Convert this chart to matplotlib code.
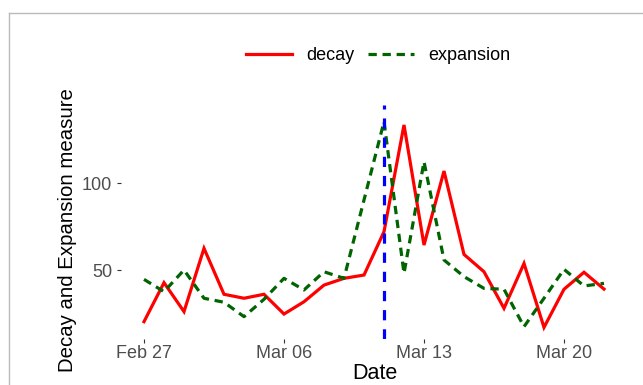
"""Decay vs expansion measure over time, with the event date marked."""

import matplotlib

matplotlib.use("Agg")

import matplotlib.pyplot as plt  # noqa: E402
import matplotlib.dates as mdates  # noqa: E402
import pandas as pd  # noqa: E402
from matplotlib.lines import Line2D  # noqa: E402

plt.rcParams["font.family"] = ["Liberation Sans", "DejaVu Sans"]

dates = pd.date_range("2021-02-27", "2021-03-22", freq="D")
decay = [20.2, 42.7, 26.0, 62.5, 36.0, 33.7, 36.0, 24.6, 31.7, 41.3, 45.2, 47.1,
         72.1, 133.7, 64.4, 107.1, 59.0, 49.0, 27.9, 53.8, 16.9, 38.9, 48.7, 39.0]
expansion = [44.6, 37.5, 50.0, 33.7, 31.4, 23.1, 33.1, 45.2, 38.5, 49.0, 45.2, 90.4,
             135.6, 48.1, 112.5, 55.8, 46.2, 39.4, 38.9, 17.3, 33.7, 50.4, 40.8, 42.3]
event_date = pd.Timestamp("2021-03-11")
tick_dates = pd.to_datetime(["2021-02-27", "2021-03-06", "2021-03-13", "2021-03-20"])
y_ticks = [50, 100]

W, H = 643, 385
fig = plt.figure(figsize=(W / 100, H / 100), dpi=100)

# light frame around the screenshot (top and left edges)
fig.add_artist(Line2D([9 / W, 1], [1 - 13 / H, 1 - 13 / H], color="#BBBBBB", lw=1))
fig.add_artist(Line2D([9 / W, 9 / W], [0, 1 - 13 / H], color="#BBBBBB", lw=1))

ax = fig.add_axes([121 / W, 46 / H, (627 - 121) / W, (339 - 105) / H])
ax.plot(dates, decay, color="#FF0000", lw=2.3, solid_joinstyle="miter", label="decay")
ax.plot(dates, expansion, color="#006400", lw=2.3, dashes=(2.6, 1.8), label="expansion")
ax.axvline(event_date, color="#0000FF", lw=2.3, dashes=(3.2, 2.8))

ax.set_xlim(dates[0] - pd.Timedelta(days=1.15), dates[-1] + pd.Timedelta(days=1.15))
ax.set_ylim(10.2, 145.2)
ax.set_xticks(tick_dates)
ax.xaxis.set_major_formatter(mdates.DateFormatter("%b %d"))
ax.set_yticks(y_ticks)
for spine in ax.spines.values():
    spine.set_visible(False)
ax.tick_params(length=3, width=0.8, color="#333333", labelcolor="#4D4D4D", labelsize=13)
ax.tick_params(axis="x", pad=1)
ax.tick_params(axis="y", pad=3.5)

fig.text(375 / W, 1 - 384 / H, "Date", ha="center", va="bottom", fontsize=15.5)
fig.text(68 / W, 1 - 230 / H, "Decay and Expansion measure", ha="center", va="center",
         rotation=90, fontsize=14.7)

handles, labels = ax.get_legend_handles_labels()
fig.legend(handles, labels, loc="center", bbox_to_anchor=(378 / W, 1 - 56 / H), ncol=2,
           frameon=False, fontsize=13, handlelength=2.55, handletextpad=0.78,
           columnspacing=0.78, borderpad=0)

fig.savefig("out.png", dpi=100)
